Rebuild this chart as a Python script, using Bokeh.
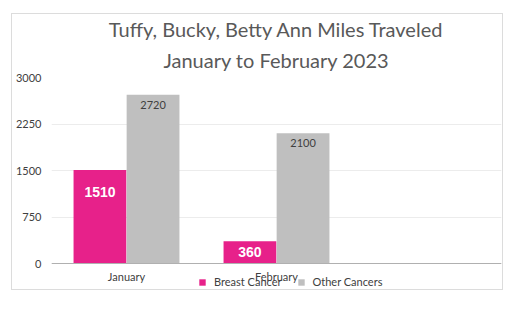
from bokeh.plotting import figure
from bokeh.models import (FactorRange, Range1d, ColumnDataSource, Legend, LegendItem,
                          FixedTicker, Title, Span)
from bokeh.transform import dodge
from bokeh.core.properties import value
from bokeh.embed import file_html
from bokeh.resources import INLINE

# ---- data ----
months = ["January", "February"]
breast = [1510, 360]
other = [2720, 2100]
series_names = ["Breast Cancer", "Other Cancers"]
y_ticks = [0, 750, 1500, 2250, 3000]
title_lines = ["Tuffy, Bucky, Betty Ann Miles Traveled", "January to February 2023"]

PINK = "#E7218A"
GRAY = "#BFBFBF"
TXT = "#404040"
FONT = "Lato"

Y_MAX = 3000
PLOT_PX = 186          # pixels between 0 and Y_MAX
BELOW_PX = 25          # room under the baseline for month labels and legend
Y_MIN = -Y_MAX * BELOW_PX / PLOT_PX

factors = months + [" "]
src = ColumnDataSource(dict(
    month=months, breast=breast, other=other,
    zero=[0] * len(months),
    breast_lbl=[str(v) for v in breast],
    other_lbl=[str(v) for v in other],
    breast_off=[min(22, v / Y_MAX * PLOT_PX / 2) for v in breast],
))

p = figure(width=490, height=275, frame_width=450, frame_height=PLOT_PX + BELOW_PX,
           x_range=FactorRange(factors=factors, range_padding=0),
           y_range=Range1d(Y_MIN, Y_MAX), output_backend="svg", toolbar_location=None,
           min_border_left=38, min_border_right=1, min_border_top=63, min_border_bottom=1)
p.styles = {"border": "1px solid #dcdcdc", "margin-left": "11px", "margin-top": "13px",
            "box-sizing": "border-box", "height": "277px", "overflow": "hidden"}
p.background_fill_color = "white"
p.border_fill_color = "white"
p.outline_line_color = None

W = 0.352
r1 = p.vbar(x=dodge("month", -0.177, range=p.x_range), top="breast", width=W, source=src,
            fill_color=PINK, line_color=None)
r2 = p.vbar(x=dodge("month", 0.177, range=p.x_range), top="other", width=W, source=src,
            fill_color=GRAY, line_color=None)

# baseline
p.add_layout(Span(location=0, dimension="width", line_color="#b0b0b0", line_width=1))

# data labels
p.text(x=dodge("month", -0.177, range=p.x_range), y="breast", text="breast_lbl", source=src,
       y_offset="breast_off", text_align="center", text_baseline="middle",
       text_color="white", text_font=value("Liberation Sans"), text_font_style="bold",
       text_font_size="14px")
p.text(x=dodge("month", 0.177, range=p.x_range), y="other", text="other_lbl", source=src,
       y_offset=10, text_align="center", text_baseline="middle",
       text_color=TXT, text_font=value(FONT), text_font_size="11px")

# month (category) labels under the baseline
p.text(x="month", y="zero", text="month", source=src, y_offset=6,
       text_align="center", text_baseline="top", text_color=TXT,
       text_font=value(FONT), text_font_size="11px")

# title: two lines, second line added first (closest to the frame)
p.title = None
for line, so in [(title_lines[1], 11), (title_lines[0], 0)]:
    p.add_layout(Title(text=line, align="center", text_font=FONT,
                       text_font_size="20px", text_font_style="normal",
                       text_color="#595959", standoff=so), "above")

# axes
p.yaxis.ticker = FixedTicker(ticks=y_ticks)
p.yaxis.axis_line_color = None
p.yaxis.major_tick_line_color = None
p.yaxis.minor_tick_line_color = None
p.yaxis.major_tick_out = 0
p.yaxis.major_tick_in = 0
p.yaxis.minor_tick_out = 0
p.yaxis.major_label_text_font = FONT
p.yaxis.major_label_text_font_size = "11px"
p.yaxis.major_label_text_color = TXT
p.yaxis.major_label_standoff = 10

p.xaxis.visible = False
p.xgrid.grid_line_color = None
p.ygrid.grid_line_color = "#ececec"

legend = Legend(items=[LegendItem(label=series_names[0], renderers=[r1]),
                       LegendItem(label=series_names[1], renderers=[r2])],
                orientation="horizontal", location=(147, 0),
                label_text_font=FONT, label_text_font_size="11px", label_text_color=TXT,
                glyph_width=8, glyph_height=8, label_standoff=8, spacing=15,
                padding=0, margin=0, label_height=11, border_line_color=None,
                background_fill_alpha=0)
p.add_layout(legend)

open("out.html", "w").write(file_html(p, INLINE))
